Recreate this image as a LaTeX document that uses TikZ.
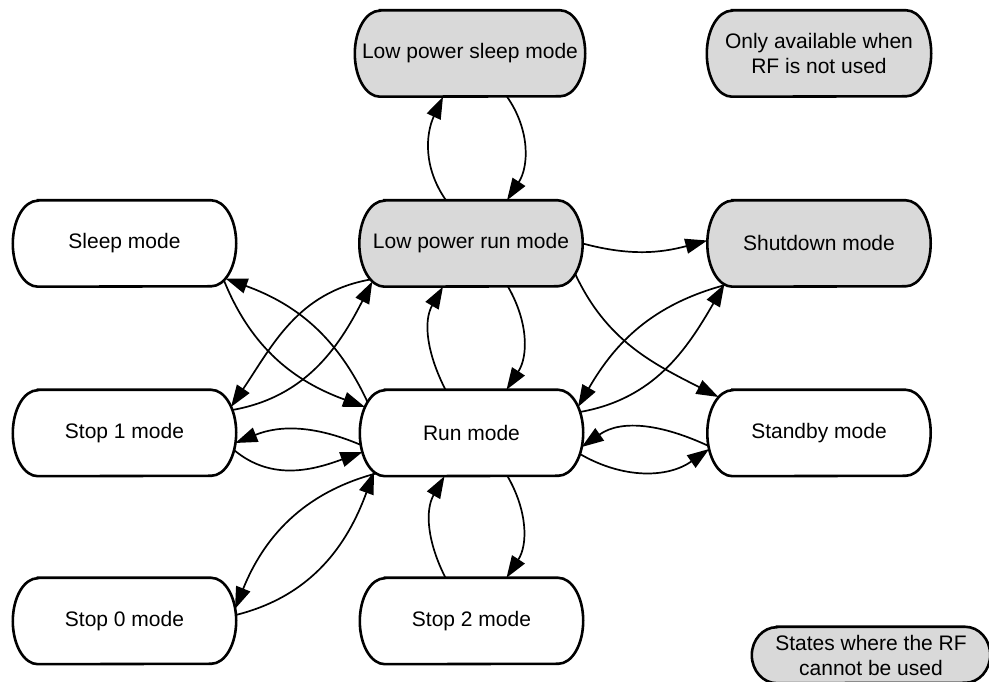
\documentclass[tikz,border=0pt]{standalone}
\usepackage{fontspec}
\setmainfont{Liberation Sans}
\usetikzlibrary{arrows.meta,backgrounds}
\definecolor{rfgray}{RGB}{217,217,217}

\begin{document}
\begin{tikzpicture}[x=1pt, y=1pt,
        mode/.style={minimum width=223pt, minimum height=86pt, inner sep=0pt, align=center, font=\fontsize{21}{25}\selectfont},
        link/.style={line width=1.7pt, -{Triangle[length=22pt, width=15pt]}}]
        \useasboundingbox (0,0) rectangle (989,682);

        % states
        \node[mode, minimum width=230pt] (lps) at (470,628.5) {Low power sleep mode};
        \node[mode, minimum width=224pt] (note) at (819,628.5) {Only available when\\RF is not used};
        \node[mode] (sleep) at (124.5,438.5) {Sleep mode};
        \node[mode] (lprun) at (471,438.5) {Low power run mode};
        \node[mode] (shutdown) at (819,438.5) {Shutdown mode};
        \node[mode] (stop1) at (124.5,249) {Stop 1 mode};
        \node[mode] (run) at (471.5,249) {Run mode};
        \node[mode] (standby) at (819,249) {Standby mode};
        \node[mode] (stop0) at (124.5,61) {Stop 0 mode};
        \node[mode] (stop2) at (471.5,61) {Stop 2 mode};
        \node[mode, minimum width=238pt, minimum height=56pt] (legend) at (871,27) {States where the RF\\cannot be used};

        % outlines
        \begin{scope}[on background layer]
            \foreach \n/\fc/\ry in {lps/rfgray/43, note/rfgray/43, sleep/white/43, lprun/rfgray/43, shutdown/rfgray/43,
                    stop1/white/43, run/white/43, standby/white/43, stop0/white/43, stop2/white/43, legend/rfgray/28}
                \draw[line width=2.6pt, fill=\fc] ([xshift=25pt]\n.north west) -- ([xshift=-25pt]\n.north east)
                    arc[start angle=90, end angle=-90, x radius=25, y radius=\ry] -- ([xshift=25pt]\n.south west)
                    arc[start angle=270, end angle=90, x radius=25, y radius=\ry] -- cycle;
        \end{scope}

        % transitions
        \draw[link] ([xshift=-25pt]lprun.north) to[out=125, in=245] ([xshift=-27pt]lps.south);
        \draw[link] ([xshift=37pt]lps.south) to[out=-55, in=57] ([xshift=36pt]lprun.north);
        \draw[link] (lprun.east) to[out=-15, in=195] ([yshift=3pt]shutdown.west);
        \draw[link] ([shift={(104,-30)}]lprun.center) to[out=-65, in=153] ([shift={(-100.5,36)}]standby.center);

        \draw[link] ([shift={(-93.8,-41.5)}]shutdown.center) to[out=195, in=60] ([shift={(106.5,26)}]run.center);
        \draw[link] ([shift={(108.4,21)}]run.center) to[out=10, in=240] ([shift={(-94.7,-41)}]shutdown.center);
        \draw[link] ([shift={(-110.4,-13)}]standby.center) to[out=155, in=35] ([shift={(110.2,-14)}]run.center);
        \draw[link] ([shift={(108.4,-21)}]run.center) to[out=-30, in=215] ([shift={(-109.8,-16)}]standby.center);

        \draw[link] ([xshift=37pt]lprun.south) to[out=-60, in=57] ([xshift=35pt]run.north);
        \draw[link] ([xshift=-26pt]run.north) to[out=117, in=240] ([xshift=-28pt]lprun.south);

        \draw[link] ([shift={(99.5,-37)}]sleep.center) to[out=-68, in=160] ([shift={(-106.5,26)}]run.center);
        \draw[link] ([shift={(-104,31)}]run.center) to[out=115, in=-20] ([shift={(101,-35)}]sleep.center);
        \draw[link] ([shift={(-100.5,-36)}]lprun.center) to[out=190, in=56] ([shift={(106.5,26)}]stop1.center);
        \draw[link] ([shift={(107.8,23)}]stop1.center) to[out=10, in=243] ([shift={(-98.7,-38)}]lprun.center);

        \draw[link] ([shift={(-110.5,-12)}]run.center) to[out=157, in=22] ([shift={(110.8,-10)}]stop1.center);
        \draw[link] ([shift={(109.5,-17)}]stop1.center) to[out=-40, in=200] ([shift={(-109,-19)}]run.center);
        \draw[link] ([shift={(-95.6,-40.5)}]run.center) to[out=195, in=68] ([shift={(110.5,12)}]stop0.center);
        \draw[link] ([shift={(111.3,6)}]stop0.center) to[out=14, in=250] ([shift={(-97.6,-39)}]run.center);

        \draw[link] ([xshift=-26pt]stop2.north) to[out=117, in=240] ([xshift=-27pt]run.south);
        \draw[link] ([xshift=36pt]run.south) to[out=-60, in=57] ([xshift=35pt]stop2.north);
\end{tikzpicture}
\end{document}
